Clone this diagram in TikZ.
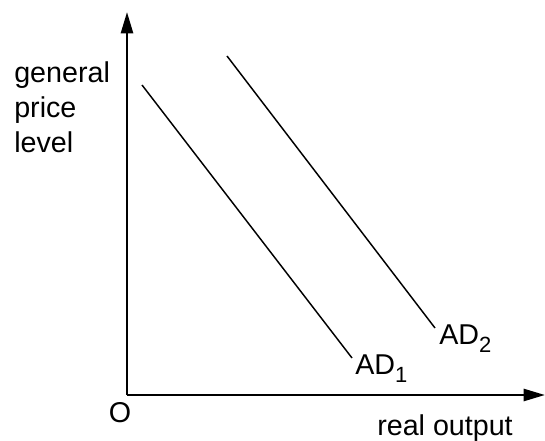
\documentclass[tikz,border=0pt]{standalone}
\usepackage{fontspec}
\setmainfont{Liberation Sans}
\usetikzlibrary{arrows.meta}
\newcommand{\adsub}[1]{\raisebox{-6pt}{\fontsize{16.5pt}{16.5pt}\selectfont #1}}
\begin{document}
\begin{tikzpicture}[x=0.75pt,y=-0.75pt,
  axis/.style={line width=1.9pt,-{Triangle[length=16pt,width=9pt]}},
  curve/.style={line width=1.1pt},
  lbl/.style={inner sep=0pt,font=\fontsize{21.5pt}{26.5pt}\selectfont}]
\useasboundingbox (0,0) rectangle (545,441);
\coordinate (O) at (127,395);
\coordinate (ytop) at (127,12);
\coordinate (xend) at (545,395);
\draw[axis] (O) -- (ytop);
\draw[axis] (O) -- (xend);
\node[lbl] (origin) at (120,413) {O};
\node[lbl,anchor=north west,align=left] (ylabel) at (14,61) {general\\price\\level};
\node[lbl] (xlabel) at (445,428) {real output};
% demand curves
\coordinate (a1) at (142,85);
\coordinate (b1) at (352,358);
\coordinate (a2) at (227,56);
\coordinate (b2) at (435,328);
\draw[curve] (a1) -- (b1);
\draw[curve] (a2) -- (b2);
\node[lbl,anchor=base west] (ad1) at (355,374) {AD\adsub{1}};
\node[lbl,anchor=base west] (ad2) at (439,344) {AD\adsub{2}};
\end{tikzpicture}
\end{document}
